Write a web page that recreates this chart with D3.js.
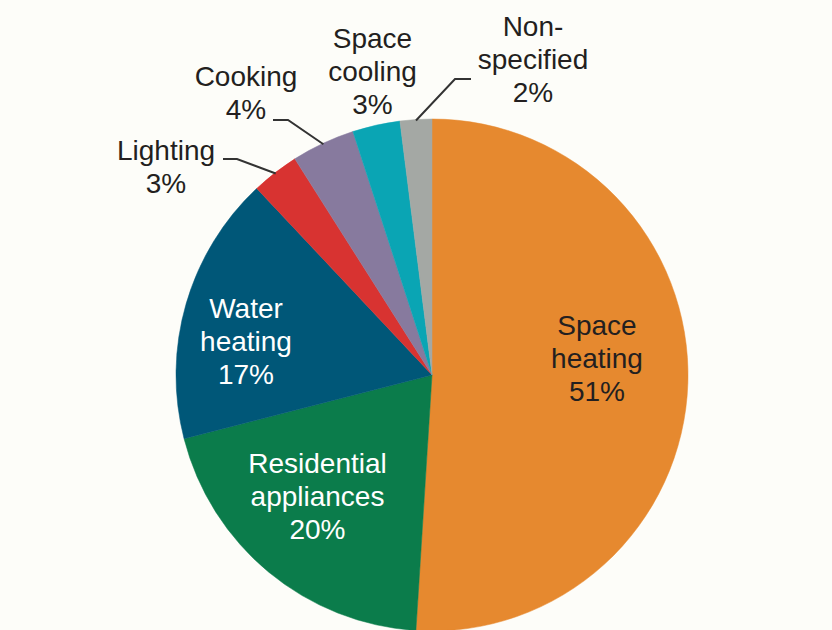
<!DOCTYPE html>
<html>
<head>
<meta charset="utf-8">
<script src="https://cdn.jsdelivr.net/npm/d3@7"></script>
<style>
  html, body { margin: 0; padding: 0; background: #fdfdf9; }
  svg { display: block; }
  text { font-family: "Liberation Sans", Arial, Helvetica, sans-serif; }
</style>
</head>
<body>
<div id="chart"></div>
<script>
// Residential energy end uses, share of total (%)
const categories = [
  "Space heating",
  "Residential appliances",
  "Water heating",
  "Lighting",
  "Cooking",
  "Space cooling",
  "Non-specified"
];
const shares = [51, 20, 17, 3, 4, 3, 2];
// Label text split into lines (the last line holds the percentage)
const labelLines = [
  ["Space", "heating"],
  ["Residential", "appliances"],
  ["Water", "heating"],
  ["Lighting"],
  ["Cooking"],
  ["Space", "cooling"],
  ["Non-", "specified"]
];

const width = 832, height = 630;
const cx = 432, cy = 375, radius = 256;

const palette = ["#e6892f", "#0b7c4b", "#005778", "#d83331", "#877a9e", "#0aa5b4", "#a4a8a4"];
const color = d3.scaleOrdinal().domain(categories).range(palette);

// Label placement: centre x and first baseline y; elbow/end for leader lines
const labelLayout = {
  "Space heating":          { x: 597,   y: 335,  fill: "#231f20" },
  "Residential appliances": { x: 317.5, y: 473,  fill: "#ffffff" },
  "Water heating":          { x: 246,   y: 318,  fill: "#ffffff" },
  "Lighting":               { x: 166,   y: 160,  fill: "#231f20", elbow: [237, 159], start: [223, 159] },
  "Cooking":                { x: 246,   y: 86,   fill: "#231f20", elbow: [288, 120], start: [273, 120] },
  "Space cooling":          { x: 372.5, y: 48,   fill: "#231f20" },
  "Non-specified":          { x: 533,   y: 36,   fill: "#231f20", elbow: [455, 79],  start: [471, 79] }
};
const lineStep = 33;

const data = categories.map((c, i) => ({ name: c, value: shares[i], lines: labelLines[i] }));

const pie = d3.pie().value(d => d.value).sort(null).startAngle(0).endAngle(2 * Math.PI);
const arc = d3.arc().innerRadius(0).outerRadius(radius);
const rimArc = d3.arc().innerRadius(radius - 1).outerRadius(radius - 1);

const svg = d3.select("#chart").append("svg")
  .attr("width", width).attr("height", height);

const g = svg.append("g").attr("transform", `translate(${cx},${cy})`);
const arcs = pie(data);

g.selectAll("path.slice")
  .data(arcs)
  .join("path")
  .attr("class", "slice")
  .attr("d", arc)
  .attr("fill", d => color(d.data.name))
  .attr("stroke", d => color(d.data.name))
  .attr("stroke-width", 0.5);

// Leader lines for the narrow slices
arcs.forEach(a => {
  const L = labelLayout[a.data.name];
  if (!L.elbow) return;
  // rim point at the slice's mid angle
  const mid = (a.startAngle + a.endAngle) / 2;
  const rx = cx + (radius - 1) * Math.sin(mid);
  const ry = cy - (radius - 1) * Math.cos(mid);
  svg.append("polyline")
    .attr("points", [L.start, L.elbow, [rx, ry]].map(p => p.join(",")).join(" "))
    .attr("fill", "none")
    .attr("stroke", "#333333")
    .attr("stroke-width", 2);
});

// Labels
const labels = svg.append("g").attr("font-size", "28px");
arcs.forEach(a => {
  const L = labelLayout[a.data.name];
  const t = labels.append("text")
    .attr("text-anchor", "middle")
    .attr("fill", L.fill);
  const lines = a.data.lines.concat([d3.format("d")(a.data.value) + "%"]);
  lines.forEach((s, i) => {
    t.append("tspan").attr("x", L.x).attr("y", L.y + i * lineStep).text(s);
  });
});
</script>
</body>
</html>
